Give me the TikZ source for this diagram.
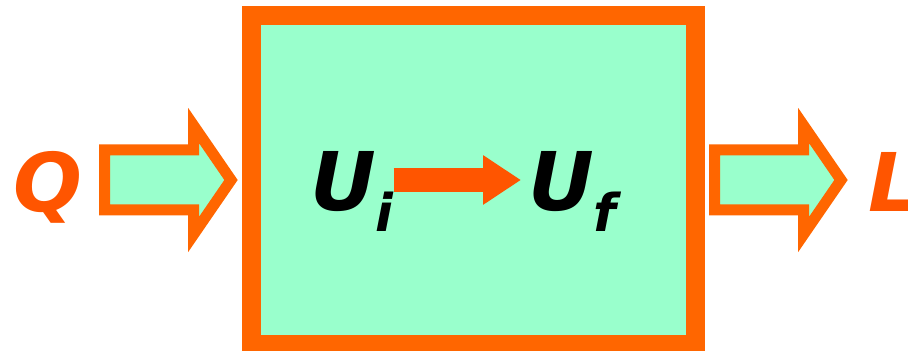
\documentclass[tikz,border=0pt]{standalone}
\usepackage{fontspec}
\setmainfont{DejaVu Sans}
\usetikzlibrary{shapes.arrows, arrows.meta}
\definecolor{boxorange}{RGB}{255,102,0}
\definecolor{textorange}{RGB}{255,85,0}
\definecolor{mint}{RGB}{153,255,204}

\begin{document}
\begin{tikzpicture}[x=0.5pt, y=-0.5pt,
    term/.style={font=\fontsize{40.5}{40.5}\selectfont\bfseries\itshape, inner sep=0pt, outer sep=0pt, anchor=base west},
    flow/.style={single arrow, draw=boxorange, fill=mint, line width=5.5pt, inner xsep=0pt, inner ysep=12.25pt, outer sep=0pt,
      minimum height=63.25pt, single arrow head extend=12.25pt, single arrow tip angle=111, anchor=tail}]
  \useasboundingbox (0,0) rectangle (908,351);

  % system box
  \node[draw=boxorange, line width=9.5pt, fill=mint, minimum width=222pt, minimum height=164.5pt,
    inner sep=0pt, outer sep=0pt] (system) at (473.5,180) {};

  % heat in, work out
  \node[term, text=textorange] (heat) at (13,212) {Q};
  \node[flow] (heatin) at (104.5,180) {};
  \node[flow] (workout) at (714.5,180) {};
  \node[term, text=textorange] (work) at (868,212) {L};

  % internal energy
  \node[term] (ui) at (310,211) {U\raisebox{-10.5pt}{\fontsize{26}{26}\selectfont i}};
  \node[term] (uf) at (528,211) {U\raisebox{-10.5pt}{\fontsize{26}{26}\selectfont f}};
  \draw[textorange, line width=12pt, -{Triangle[length=19pt, width=23.5pt]}, shorten >=3.5pt]
    (ui.east |- system.center) -- (uf.west |- system.center);
\end{tikzpicture}
\end{document}
